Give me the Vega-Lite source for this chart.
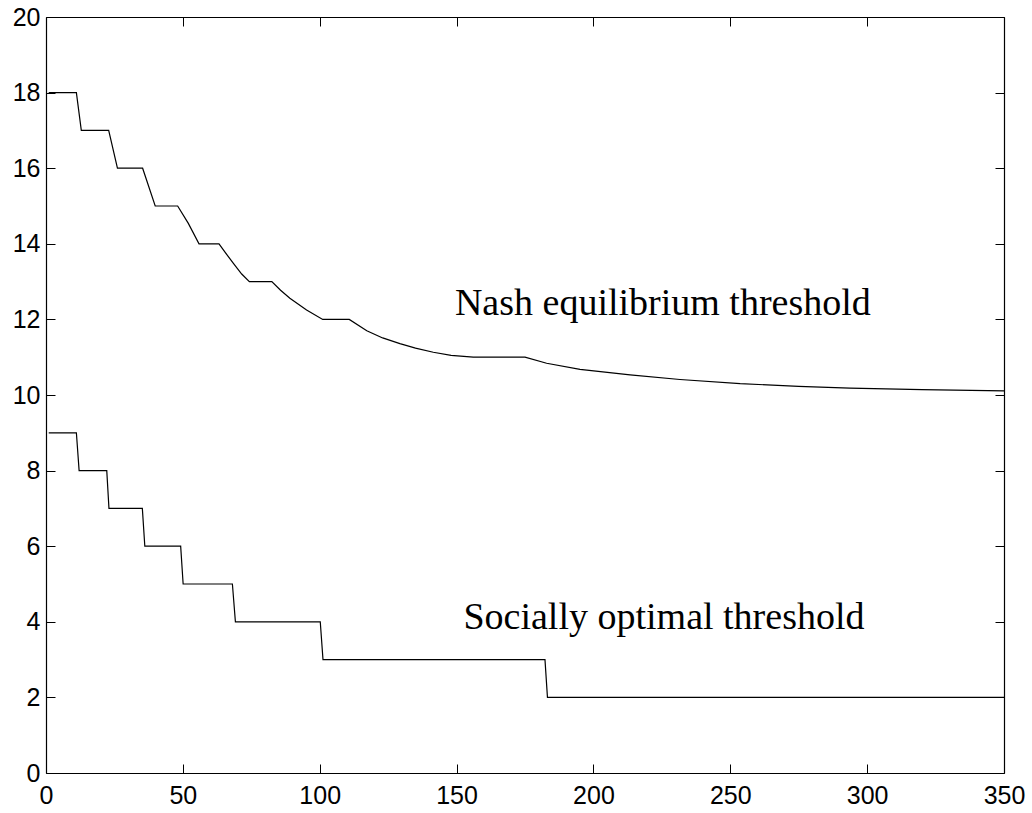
{
  "$schema": "https://vega.github.io/schema/vega-lite/v6.json",
  "width": 958,
  "height": 756,
  "autosize": {"type": "none"},
  "padding": {"left": 46, "top": 17, "right": 28, "bottom": 40},
  "background": "white",
  "config": {
    "view": {"stroke": null},
    "axis": {
      "domainColor": "black",
      "domainWidth": 1.2,
      "tickColor": "black",
      "tickSize": -9,
      "tickWidth": 1,
      "grid": false,
      "labelFont": "Liberation Sans",
      "labelFontSize": 25,
      "labelColor": "black",
      "labelFlush": false,
      "labelOverlap": false,
      "title": null
    }
  },
  "datasets": {
    "lines": [
      {"series": "nash", "x": 1, "y": 18},
      {"series": "nash", "x": 11.1, "y": 18},
      {"series": "nash", "x": 12.9, "y": 17},
      {"series": "nash", "x": 22.9, "y": 17},
      {"series": "nash", "x": 26.1, "y": 16},
      {"series": "nash", "x": 35.3, "y": 16},
      {"series": "nash", "x": 39.9, "y": 15},
      {"series": "nash", "x": 48.1, "y": 15},
      {"series": "nash", "x": 52, "y": 14.54},
      {"series": "nash", "x": 55.9, "y": 14},
      {"series": "nash", "x": 63.2, "y": 14},
      {"series": "nash", "x": 66, "y": 13.72},
      {"series": "nash", "x": 68.4, "y": 13.49},
      {"series": "nash", "x": 71.5, "y": 13.2},
      {"series": "nash", "x": 74.3, "y": 13},
      {"series": "nash", "x": 82.5, "y": 13},
      {"series": "nash", "x": 85.7, "y": 12.77},
      {"series": "nash", "x": 89.1, "y": 12.56},
      {"series": "nash", "x": 95.2, "y": 12.25},
      {"series": "nash", "x": 101.1, "y": 12},
      {"series": "nash", "x": 110.8, "y": 12},
      {"series": "nash", "x": 117.2, "y": 11.7},
      {"series": "nash", "x": 123, "y": 11.51},
      {"series": "nash", "x": 129.3, "y": 11.36},
      {"series": "nash", "x": 135, "y": 11.24},
      {"series": "nash", "x": 141.5, "y": 11.13},
      {"series": "nash", "x": 148, "y": 11.05},
      {"series": "nash", "x": 156.1, "y": 11},
      {"series": "nash", "x": 175, "y": 11},
      {"series": "nash", "x": 182.9, "y": 10.84},
      {"series": "nash", "x": 195.1, "y": 10.68},
      {"series": "nash", "x": 213.4, "y": 10.53},
      {"series": "nash", "x": 231.6, "y": 10.41},
      {"series": "nash", "x": 253.6, "y": 10.3},
      {"series": "nash", "x": 275, "y": 10.23},
      {"series": "nash", "x": 293.7, "y": 10.18},
      {"series": "nash", "x": 320, "y": 10.14},
      {"series": "nash", "x": 350, "y": 10.11},
      {"series": "social", "x": 1, "y": 9},
      {"series": "social", "x": 11.1, "y": 9},
      {"series": "social", "x": 12.1, "y": 8},
      {"series": "social", "x": 22.2, "y": 8},
      {"series": "social", "x": 23, "y": 7},
      {"series": "social", "x": 35.2, "y": 7},
      {"series": "social", "x": 36.1, "y": 6},
      {"series": "social", "x": 49.2, "y": 6},
      {"series": "social", "x": 50.1, "y": 5},
      {"series": "social", "x": 68.1, "y": 5},
      {"series": "social", "x": 69.2, "y": 4},
      {"series": "social", "x": 100.2, "y": 4},
      {"series": "social", "x": 101.2, "y": 3},
      {"series": "social", "x": 182.3, "y": 3},
      {"series": "social", "x": 183.2, "y": 2},
      {"series": "social", "x": 350, "y": 2}
    ],
    "labels": [
      {"label": "Nash equilibrium threshold", "x": 149.4, "y": 12.12},
      {"label": "Socially optimal threshold", "x": 152.5, "y": 3.81}
    ]
  },
  "layer": [
    {
      "data": {"name": "lines"},
      "mark": {"type": "line", "color": "black", "strokeWidth": 1.2, "interpolate": "linear"},
      "encoding": {
        "x": {"field": "x", "type": "quantitative", "scale": {"domain": [0, 350], "nice": false, "zero": false},
              "axis": {"orient": "bottom", "values": [0, 50, 100, 150, 200, 250, 300, 350], "labelPadding": 19}},
        "y": {"field": "y", "type": "quantitative", "scale": {"domain": [0, 20], "nice": false, "zero": false},
              "axis": {"orient": "left", "values": [0, 2, 4, 6, 8, 10, 12, 14, 16, 18, 20], "labelPadding": 15}},
        "detail": {"field": "series"}
      }
    },
    {
      "data": {"name": "labels"},
      "mark": {"type": "text", "font": "Liberation Serif", "fontSize": 38, "align": "left", "baseline": "alphabetic", "color": "black"},
      "encoding": {
        "x": {"field": "x", "type": "quantitative",
              "axis": {"orient": "top", "values": [0, 50, 100, 150, 200, 250, 300, 350], "labels": false}},
        "y": {"field": "y", "type": "quantitative",
              "axis": {"orient": "right", "values": [0, 2, 4, 6, 8, 10, 12, 14, 16, 18, 20], "labels": false}},
        "text": {"field": "label"}
      }
    }
  ],
  "resolve": {"axis": {"x": "independent", "y": "independent"}}
}
